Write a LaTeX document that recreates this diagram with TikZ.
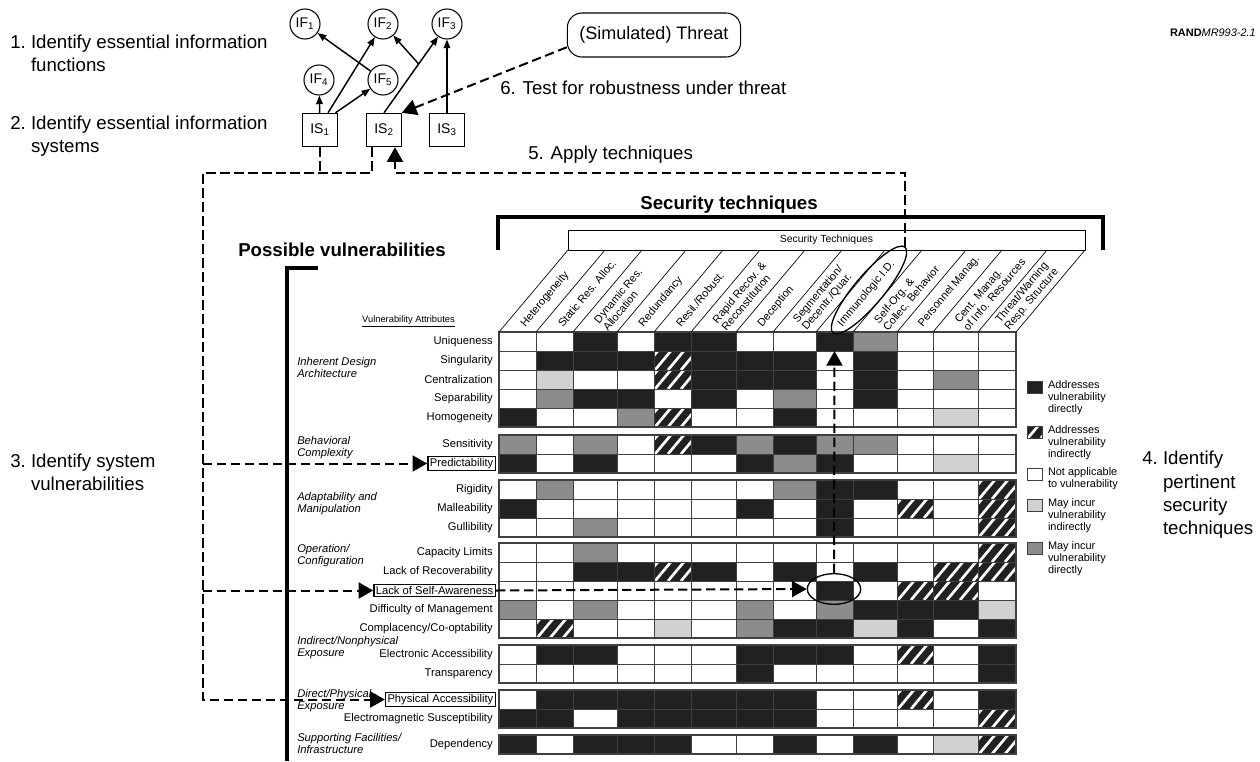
\documentclass[tikz,border=0pt]{standalone}
\usepackage{fontspec}
\setmainfont{Liberation Sans}
\usetikzlibrary{positioning,arrows.meta,shapes.geometric,calc}

\definecolor{inkblack}{gray}{0.13}
\definecolor{darkcell}{gray}{0.55}
\definecolor{lightcell}{gray}{0.82}
\definecolor{gridline}{gray}{0.25}

% column edges of the technique matrix (13 columns)
\newcommand{\colbounds}{{499,536,573,617,654,691,736,773,816,853,897,933,978,1016}}

\begin{document}
\begin{tikzpicture}[x=0.75pt,y=-0.75pt,
    stepnote/.style={inner sep=0pt, anchor=west, font=\fontsize{14}{17.5}\selectfont},
    ifnode/.style={draw, circle, line width=0.8pt, minimum size=22.5pt, inner sep=0pt, font=\fontsize{10.5}{12}\selectfont},
    isnode/.style={draw, line width=0.8pt, minimum width=26pt, minimum height=25pt, inner sep=0pt, font=\fontsize{10.5}{12}\selectfont},
    solidarr/.style={line width=1.1pt, -{Triangle[length=6.5pt,width=5pt]}},
    dashline/.style={line width=1.5pt, dash pattern=on 7pt off 3.5pt},
    dasharr/.style={dashline, -{Triangle[length=11pt,width=12pt]}},
    bracket/.style={line width=2.6pt},
    headtitle/.style={font=\bfseries\fontsize{14}{16}\selectfont, inner sep=0pt},
    rowlabel/.style={anchor=east, inner sep=0pt, font=\fontsize{8.4}{10}\selectfont},
    markbox/.style={anchor=east, draw, fill=white, line width=1pt, inner sep=1.5pt, font=\fontsize{8.4}{10}\selectfont},
    grouplabel/.style={anchor=west, align=left, inner sep=0pt, font=\itshape\fontsize{8.4}{9}\selectfont},
    headlabel/.style={anchor=west, rotate=50, align=left, inner sep=0.5pt, font=\fontsize{8.2}{8.8}\selectfont},
    headline/.style={line width=0.5pt},
    cell W/.style={fill=white},
    cell B/.style={fill=inkblack},
    cell L/.style={fill=lightcell},
    cell D/.style={fill=darkcell},
    cell H/.style={fill=inkblack, path picture={
        \foreach \s in {0,...,4}
          \draw[white, line width=2pt] ($(path picture bounding box.south west)+(\s*13-12,0)$) -- ++(20,-24);}},
    keybox/.style={draw=gridline, line width=0.6pt, minimum width=11.25pt, minimum height=9pt, inner sep=0pt},
    keytext/.style={align=left, inner sep=0pt, font=\fontsize{8.2}{8.75}\selectfont}
]
\useasboundingbox (0,0) rectangle (1260,761);

% numbered steps
\node[stepnote] (stepone) at (10,55) {\begin{tabular}{@{}l@{\ }l@{}}1.&Identify essential information\\&functions\end{tabular}};
\node[stepnote] (steptwo) at (10,136) {\begin{tabular}{@{}l@{\ }l@{}}2.&Identify essential information\\&systems\end{tabular}};
\node[stepnote] (stepthree) at (10,474) {\begin{tabular}{@{}l@{\ }l@{}}3.&Identify system\\&vulnerabilities\end{tabular}};
\node[stepnote] (stepfour) at (1142,495) {\begin{tabular}{@{}l@{\ }l@{}}4.&Identify\\&pertinent\\&security\\&techniques\end{tabular}};
\node[stepnote] (stepfive) at (528,155) {5. Apply techniques};
\node[stepnote] (stepsix) at (500,88) {6. Test for robustness under threat};
\node[anchor=east, inner sep=0pt, font=\fontsize{8.2}{9}\selectfont] (rand) at (1256,33) {\textbf{RAND}\textit{MR993-2.1}};

% functions and systems
\node[ifnode] (if1) at (305,24) {IF\textsubscript{1}};
\node[ifnode] (if2) at (383,24) {IF\textsubscript{2}};
\node[ifnode] (if3) at (447,24) {IF\textsubscript{3}};
\node[ifnode] (if4) at (319,80) {IF\textsubscript{4}};
\node[ifnode] (if5) at (383,80) {IF\textsubscript{5}};
\node[isnode] (is1) at (320,130) {IS\textsubscript{1}};
\node[isnode] (is2) at (384,130) {IS\textsubscript{2}};
\node[isnode] (is3) at (447,130) {IS\textsubscript{3}};
\draw[solidarr] (is1) -- (if4);
\draw[solidarr] (is1.65) -- (if2);
\draw[solidarr] (is1.48) -- (if5);
\draw[solidarr] (if5) -- (if1);
\draw[solidarr] (is2.north) -- (if3);
\coordinate (fork) at ($(is2.north)!0.55!(if3)$);
\draw[solidarr] (fork) -- (if2);
\draw[solidarr] (is3) -- (if3);

\node[draw, rounded corners=11pt, line width=0.8pt, minimum width=130pt, minimum height=33pt, font=\fontsize{13.5}{15}\selectfont] (threat) at (654,35) {(Simulated) Threat};
\draw[dasharr] (threat.188) -- (is2.north east);

% headings and brackets
\node[headtitle] (techtitle) at (729,205) {Security techniques};
\draw[bracket] (498,250) -- (498,217) -- (1103,217) -- (1103,250);
\node[draw, line width=0.6pt, minimum width=387.75pt, minimum height=15pt, inner sep=0pt, font=\fontsize{7.8}{9}\selectfont] (techbox) at (826.5,240) {Security Techniques};
\node[headtitle] (vulntitle) at (342,250) {Possible vulnerabilities};
\draw[bracket] (318,268) -- (287,268) -- (287,761);

% matrix cells: W white, B black, H hatched, L light grey, D dark grey
\foreach \ytop/\cells in {
    332/{W,W,B,W,B,B,W,W,B,D,W,W,W},
    351/{W,B,B,B,H,B,B,B,W,B,W,W,W},
    370/{W,L,W,W,H,B,B,B,W,B,W,D,W},
    389/{W,D,B,B,W,B,W,D,W,B,W,W,W},
    408/{B,W,W,D,H,W,W,B,W,W,W,L,W},
    435/{D,W,D,W,H,B,D,B,D,D,W,W,W},
    454/{B,W,B,W,W,W,B,D,B,W,W,L,W},
    480/{W,D,W,W,W,W,W,D,B,B,W,W,H},
    499/{B,W,W,W,W,W,B,W,B,W,H,W,H},
    518/{W,W,D,W,W,W,W,W,B,W,W,W,H},
    543/{W,W,D,W,W,W,W,W,W,W,W,W,H},
    562/{W,W,B,B,H,B,W,B,W,B,W,H,H},
    581/{W,W,W,W,W,W,W,W,B,W,H,H,W},
    600/{D,W,D,W,W,W,D,W,D,B,B,B,L},
    619/{W,H,W,W,L,W,D,B,B,L,B,W,B},
    645/{W,B,B,W,W,W,B,B,B,W,H,W,B},
    664/{W,W,W,W,W,W,B,W,W,W,W,W,B},
    690/{W,B,B,B,B,B,B,B,W,W,H,W,B},
    709/{B,B,W,B,B,B,B,B,W,W,W,W,H},
    735/{B,W,B,B,B,W,W,B,W,B,W,L,H}}{
  \foreach \k [count=\c] in \cells {
    \pgfmathsetmacro\xa{\colbounds[\c-1]}
    \pgfmathsetmacro\xb{\colbounds[\c]}
    \path[cell \k, draw=gridline, line width=0.45pt] (\xa,\ytop) rectangle (\xb,\ytop+19);
  }
}
\foreach \gt/\gn in {332/5,435/2,480/3,543/5,645/2,690/2,735/1}
  \draw[gridline, line width=1pt] (499,\gt) rectangle (1016,\gt+\gn*19);

% slanted column heads
\foreach \xx in {499,536,573,617,654,691,736,773,816,853,897,933,978,1016}
  \draw[headline] (\xx,332) -- (\xx+69,250);
\foreach \lab [count=\c] in {Heterogeneity, Static Res. Alloc., {Dynamic Res.\\Allocation}, Redundancy,
    Resil./Robust., {Rapid Recov. \&\\Reconstitution}, Deception, {Segmentation/\\Decentr./Quar.},
    Immunologic I.D., {Self-Org. \&\\Collec. Behavior}, Personnel Manag., {Cent. Manag.\\of Info. Resources},
    {Threat/Warning\\Resp. Structure}}{
  \pgfmathsetmacro\xa{\colbounds[\c-1]}
  \pgfmathsetmacro\xb{\colbounds[\c]}
  \pgfmathsetmacro\xm{(\xa+\xb)/2}
  \node[headlabel] at (\xm+5,326) {\lab};
}

% row and group labels
\node[anchor=east, inner sep=0pt, font=\fontsize{7}{8}\selectfont] (vulnattr) at (455,321) {\underline{Vulnerability Attributes}};
\foreach \yc/\lab in {341.5/Uniqueness, 360.5/Singularity, 379.5/Centralization, 398.5/Separability,
    417.5/Homogeneity, 444.5/Sensitivity, 489.5/Rigidity, 508.5/Malleability, 527.5/Gullibility,
    552.5/Capacity Limits, 571.5/Lack of Recoverability, 609.5/Difficulty of Management,
    628.5/{Complacency/Co-optability}, 654.5/Electronic Accessibility, 673.5/Transparency,
    718.5/Electromagnetic Susceptibility, 744.5/Dependency}
  \node[rowlabel] at (493,\yc) {\lab};
\foreach \yc/\lab in {367/{Inherent Design\\Architecture}, 448/{Behavioral\\Complexity},
    504/{Adaptability and\\Manipulation}, 556/{Operation/\\Configuration},
    648/{Indirect/Nonphysical\\Exposure}, 701/{Direct/Physical\\Exposure},
    743/{Supporting Facilities/\\Infrastructure}}
  \node[grouplabel] at (297,\yc) {\lab};

% legend
\node[keybox, fill=inkblack] (keyB) at (1034.5,387) {};
\node[keybox, cell H] (keyH) at (1034.5,432) {};
\node[keybox, fill=white] (keyW) at (1034.5,474) {};
\node[keybox, fill=lightcell] (keyL) at (1034.5,505) {};
\node[keybox, fill=darkcell] (keyD) at (1034.5,548) {};
\node[keytext, right=4pt of keyB.north east, anchor=north west] {Addresses\\vulnerability\\directly};
\node[keytext, right=4pt of keyH.north east, anchor=north west] {Addresses\\vulnerability\\indirectly};
\node[keytext, right=4pt of keyW.north east, anchor=north west] {Not applicable\\to vulnerability};
\node[keytext, right=4pt of keyL.north east, anchor=north west] {May incur\\vulnerability\\indirectly};
\node[keytext, right=4pt of keyD.north east, anchor=north west] {May incur\\vulnerability\\directly};

% marked vulnerabilities and the search loop
\node[markbox] (predbox) at (496,463.5) {Predictability};
\node[markbox] (selfbox) at (496,590.5) {Lack of Self-Awareness};
\node[markbox] (physbox) at (496,699.5) {Physical Accessibility};
\node[draw, ellipse, line width=1pt, minimum width=84pt, minimum height=22pt, inner sep=0pt, rotate=50] (immu) at (869,290) {};
\node[draw, ellipse, line width=1pt, minimum width=40pt, minimum height=23pt, inner sep=0pt] (selfring) at (834,589) {};
\coordinate (uniqbase) at (834.5,351);
\coordinate (leftturn) at (203,173);
\coordinate (applyturn) at (395,173);
\draw[dashline] (is1.south) -- (is1.south |- leftturn);
\draw[dasharr] ([xshift=-9pt]is2.south) |- (leftturn) |- (physbox.west);
\draw[dasharr] (leftturn |- predbox.west) -- (predbox.west);
\draw[dasharr] (leftturn |- selfbox.west) -- (selfbox.west);
\draw[dasharr] (selfbox.east) -- (selfring.west);
\draw[dasharr] (selfring.north) -- (uniqbase);
\draw[dasharr] (immu.east) |- (applyturn) -- (applyturn |- is2.south);
\end{tikzpicture}
\end{document}
